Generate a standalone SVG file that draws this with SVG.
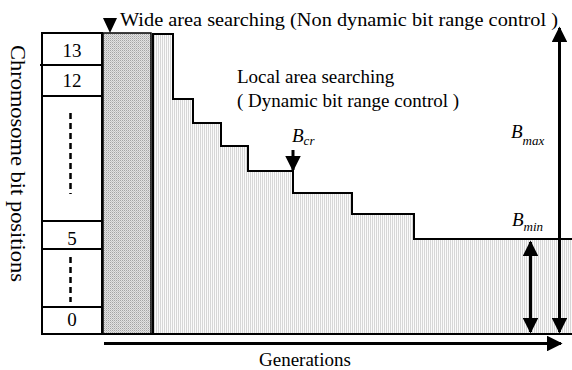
<svg xmlns="http://www.w3.org/2000/svg" width="572" height="370" viewBox="0 0 572 370">
<style>
text{font-family:"Liberation Serif","Times New Roman",serif;fill:#000}
.t{font-size:19px}
.n{font-size:19px;text-anchor:middle}
.b{font-size:19px;font-style:italic}
.s{font-size:13px;font-style:italic}
.ln{stroke:#000;stroke-width:2;fill:none}
.ar{stroke:#000;stroke-width:3;fill:none}
.ds{stroke:#000;stroke-width:2.5;stroke-dasharray:6 4;fill:none}
</style>
<defs>
<pattern id="dk" width="2" height="2" patternUnits="userSpaceOnUse">
<rect width="2" height="2" fill="#e2e2e2"/>
<rect width="1" height="1" fill="#a4a4a4"/>
<rect x="1" y="1" width="1" height="1" fill="#c4c4c4"/>
</pattern>
<pattern id="lt" width="2" height="2" patternUnits="userSpaceOnUse">
<rect width="2" height="2" fill="#fafafa"/>
<rect width="1" height="2" fill="#d6d6d6"/>
</pattern>
<marker id="ah" viewBox="0 0 10 10" refX="9" refY="5" markerWidth="5.2" markerHeight="5.2" orient="auto-start-reverse" markerUnits="strokeWidth">
<path d="M0,0 L10,5 L0,10 Z" fill="#000"/>
</marker>
</defs>
<g id="bit-column">
<rect x="42" y="33" width="60" height="301" class="ln" fill="#fff"/>
<line x1="40" y1="65" x2="102" y2="65" class="ln"/>
<line x1="42" y1="96" x2="102" y2="96" class="ln"/>
<line x1="42" y1="221" x2="102" y2="221" class="ln"/>
<line x1="42" y1="249" x2="102" y2="249" class="ln"/>
<line x1="42" y1="307" x2="102" y2="307" class="ln"/>
<text class="n" x="72" y="57">13</text>
<text class="n" x="72" y="87">12</text>
<text class="n" x="72" y="245">5</text>
<text class="n" x="72" y="326">0</text>
<line x1="70.5" y1="113" x2="70.5" y2="194" class="ds"/>
<line x1="70.5" y1="257" x2="70.5" y2="302" class="ds"/>
</g>
<g id="wide-area">
<rect x="103" y="33" width="48" height="301" fill="url(#dk)" stroke="#000" stroke-width="1.5"/>
<path d="M103,18 L117,18 L110,33 Z" fill="#000"/>
<text class="t" x="120" y="26" textLength="438" lengthAdjust="spacingAndGlyphs">Wide area searching (Non dynamic bit range control )</text>
</g>
<g id="local-area">
<path d="M153,334 L153,34 L173,34 L173,99 L193,99 L193,123 L221,123 L221,146 L248,146 L248,171 L293,171 L293,193 L352,193 L352,214 L414,214 L414,239 L572,239 L572,334 Z" fill="url(#lt)"/>
<path d="M153,334 L153,34 L173,34 L173,99 L193,99 L193,123 L221,123 L221,146 L248,146 L248,171 L293,171 L293,193 L352,193 L352,214 L414,214 L414,239 L572,239" class="ln" stroke-width="1.8"/>
<text class="t" x="237" y="83">Local area searching</text>
<text class="t" x="237" y="107">( Dynamic bit range control )</text>
</g>
<g id="axis-label">
<text style="font-size:21px" transform="translate(11,45) rotate(90)" textLength="237" lengthAdjust="spacingAndGlyphs">Chromosome bit positions</text>
<text class="t" x="259" y="366">Generations</text>
</g>
<g id="labels">
<text x="292" y="142"><tspan class="b">B</tspan><tspan class="s" dy="3">cr</tspan></text>
<text x="511" y="138"><tspan class="b">B</tspan><tspan class="s" dy="7">max</tspan></text>
<text x="512" y="226"><tspan class="b">B</tspan><tspan class="s" dy="5">min</tspan></text>
</g>
<g id="connectors">
<line x1="102" y1="334" x2="572" y2="334" class="ln"/>
<line x1="104" y1="343.5" x2="561" y2="343.5" class="ar" marker-end="url(#ah)"/>
<line x1="293" y1="150" x2="293" y2="170" class="ar" marker-end="url(#ah)"/>
<line x1="530.5" y1="242" x2="530.5" y2="332" class="ar" marker-start="url(#ah)" marker-end="url(#ah)"/>
<line x1="559.5" y1="28" x2="559.5" y2="332" class="ar" marker-start="url(#ah)" marker-end="url(#ah)"/>
</g>
</svg>
